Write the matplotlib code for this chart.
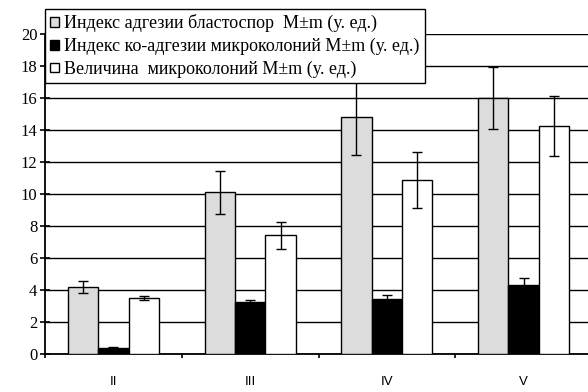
import matplotlib
matplotlib.use("Agg")
import matplotlib.pyplot as plt
import numpy as np

categories = ["II", "III", "IV", "V"]

adhesion = [4.17, 10.1, 14.8, 16.0]
adhesion_err = [0.37, 1.35, 2.35, 1.95]

coadhesion = [0.4, 3.25, 3.45, 4.3]
coadhesion_err = [0.03, 0.15, 0.25, 0.42]

colony_size = [3.5, 7.42, 10.85, 14.25]
colony_size_err = [0.15, 0.83, 1.75, 1.85]

labels = ["Индекс адгезии бластоспор  M\u00b1m (у. ед.)",
          "Индекс ко-адгезии микроколоний M\u00b1m (у. ед.)",
          "Величина  микроколоний M\u00b1m (у. ед.)"]

plt.rcParams['font.family'] = ['Liberation Serif', 'DejaVu Serif']

fig = plt.figure(figsize=(5.88, 3.92), dpi=100)
# axes run a little past the right edge, as in the reference
ax = fig.add_axes([45 / 588, 38 / 392, 547 / 588, 320 / 392])

x = np.arange(len(categories))
w = 1 / 4.5
series = [(adhesion, adhesion_err, "#dcdcdc"),
          (coadhesion, coadhesion_err, "black"),
          (colony_size, colony_size_err, "white")]

handles = []
for i, (vals, errs, col) in enumerate(series):
    pos = x + (i - 1) * w
    b = ax.bar(pos, vals, w, color=col, edgecolor="black", linewidth=1.0, zorder=3)
    ax.errorbar(pos, vals, yerr=errs, fmt="none", ecolor="black", elinewidth=1.0,
                capsize=3.5, capthick=1.0, zorder=4, clip_on=False)
    handles.append(b)

ax.set_xlim(-0.5, len(categories) - 0.5)
ax.set_ylim(0, 20)
ax.set_yticks(np.arange(0, 21, 2))
ax.yaxis.grid(True, color="black", linewidth=1.0, zorder=0)
ax.set_axisbelow(True)

ax.set_xticks(x)
ax.set_xticklabels(categories, fontfamily="Liberation Sans", fontsize=9.5)
ax.set_xticks(np.arange(-0.5, len(categories), 1), minor=True)
ax.tick_params(axis="x", which="major", length=0, pad=16)
ax.tick_params(axis="x", which="minor", direction="out", length=3, width=1.2)
ax.tick_params(axis="y", direction="inout", length=7, width=1.2, labelsize=12, pad=2)

for s in ["top", "right"]:
    ax.spines[s].set_visible(False)
ax.spines["left"].set_linewidth(1.3)
ax.spines["bottom"].set_linewidth(1.3)

leg = fig.legend(handles, labels, loc="upper left", bbox_to_anchor=(45 / 588, 1 - 9 / 392),
                 fontsize=13, frameon=True, fancybox=False, edgecolor="black",
                 framealpha=1, handlelength=0.45, handleheight=0.45, handletextpad=0.3,
                 borderpad=0.3, labelspacing=0.3, borderaxespad=0)
leg.get_frame().set_linewidth(1.0)
leg.set_zorder(10)

fig.savefig("out.png", dpi=100)
